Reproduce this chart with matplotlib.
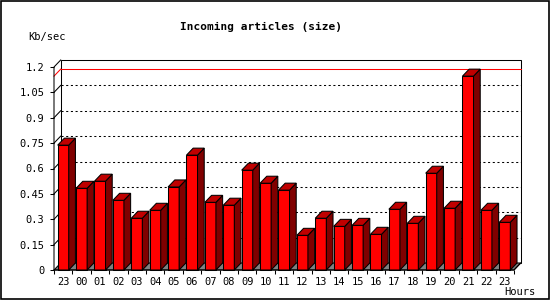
import matplotlib
matplotlib.use('Agg')
import matplotlib.pyplot as plt
from matplotlib.patches import Polygon, Rectangle

hours = ['23', '00', '01', '02', '03', '04', '05', '06', '07', '08', '09', '10',
         '11', '12', '13', '14', '15', '16', '17', '18', '19', '20', '21', '22', '23']
kb_sec = [0.738, 0.483, 0.525, 0.412, 0.306, 0.353, 0.491, 0.679, 0.400, 0.383,
          0.590, 0.513, 0.472, 0.205, 0.306, 0.258, 0.264, 0.211, 0.359, 0.276,
          0.572, 0.365, 1.146, 0.353, 0.282]
y_ticks = [0, 0.15, 0.3, 0.45, 0.6, 0.75, 0.9, 1.05, 1.2]

plt.rcParams['font.family'] = 'DejaVu Sans Mono'

fig = plt.figure(figsize=(5.5, 3), dpi=100)
ax = fig.add_axes([54 / 550, 30 / 300, 460 / 550, 203 / 300])
n = len(kb_sec)
ax.set_xlim(-0.5, n - 0.5)
ax.set_ylim(0, 1.2)

# 3d offset (depth) in data units
dx = 6.7 / 18.4
dy = 7 * 1.2 / 203
w = 0.3
lw = 0.75

x0, x1 = -0.5, n - 0.5
top = y_ticks[-1]

# back wall
ax.add_patch(Polygon([(x0 + dx, dy), (x1 + dx, dy), (x1 + dx, top + dy), (x0 + dx, top + dy)],
                     closed=True, facecolor='white', edgecolor='black', lw=lw, clip_on=False, zorder=1))
# grid lines on the back wall
for v in y_ticks[1:-1]:
    ax.plot([x0 + dx, x1 + dx], [v + dy, v + dy], color='black', lw=lw,
            linestyle=(0, (2, 2.5)), clip_on=False, zorder=2)
    ax.plot([x0, x0 + dx], [v, v + dy], color='black', lw=lw, clip_on=False, zorder=2)
# max line
m = max(kb_sec)
ax.plot([x0 + dx, x1 + dx], [m + dy, m + dy], color='red', lw=lw, clip_on=False, zorder=2)
ax.plot([x0, x0 + dx], [m, m + dy], color='red', lw=lw, clip_on=False, zorder=2)

# floor
ax.add_patch(Polygon([(x0, 0), (x1, 0), (x1 + dx, dy), (x0 + dx, dy)],
                     closed=True, facecolor='#808080', edgecolor='black', lw=lw, clip_on=False, zorder=3))

# bars
for i, v in enumerate(kb_sec):
    l, r = i - w, i + w
    ax.add_patch(Polygon([(l, 0), (r, 0), (r, v), (l, v)], closed=True,
                         facecolor='#ff0000', edgecolor='black', lw=lw, clip_on=False, zorder=4))
    ax.add_patch(Polygon([(r, 0), (r + dx, dy), (r + dx, v + dy), (r, v)], closed=True,
                         facecolor='#800000', edgecolor='black', lw=lw, clip_on=False, zorder=4))
    ax.add_patch(Polygon([(l, v), (r, v), (r + dx, v + dy), (l + dx, v + dy)], closed=True,
                         facecolor='#c00000', edgecolor='black', lw=lw, clip_on=False, zorder=4))

# front frame
ax.plot([x0, x0, x0 + dx], [0, top, top + dy], color='black', lw=lw, clip_on=False, zorder=5)
ax.plot([x0, x1, x1 + dx], [0, 0, dy], color='black', lw=lw, clip_on=False, zorder=5)

for s in ax.spines.values():
    s.set_visible(False)
ax.patch.set_visible(False)

ax.set_yticks(y_ticks)
ax.set_yticklabels(['%g' % t for t in y_ticks])
ax.set_xticks([i - 0.5 for i in range(n + 1)])
ax.set_xticklabels([])
ax.set_xticks(range(n), minor=True)
ax.set_xticklabels(hours, minor=True)
ax.tick_params(axis='y', length=3, width=lw, pad=4, labelsize=7.5)
ax.tick_params(axis='x', which='major', length=3, width=lw)
ax.tick_params(axis='x', which='minor', length=0, pad=5, labelsize=7.5)

fig.text(261 / 550, 1 - 27 / 300, 'Incoming articles (size)', ha='center', va='center',
         fontsize=8, fontweight='bold')
fig.text(28 / 550, 1 - 37 / 300, 'Kb/sec', ha='left', va='center', fontsize=7.5)
fig.text(504 / 550, 1 - 292 / 300, 'Hours', ha='left', va='center', fontsize=7.5)

fig.patches.append(Rectangle((0.001, 0.002), 0.997, 0.995, transform=fig.transFigure,
                             fill=False, edgecolor='black', lw=1.2))

fig.savefig('out.png', dpi=100)
